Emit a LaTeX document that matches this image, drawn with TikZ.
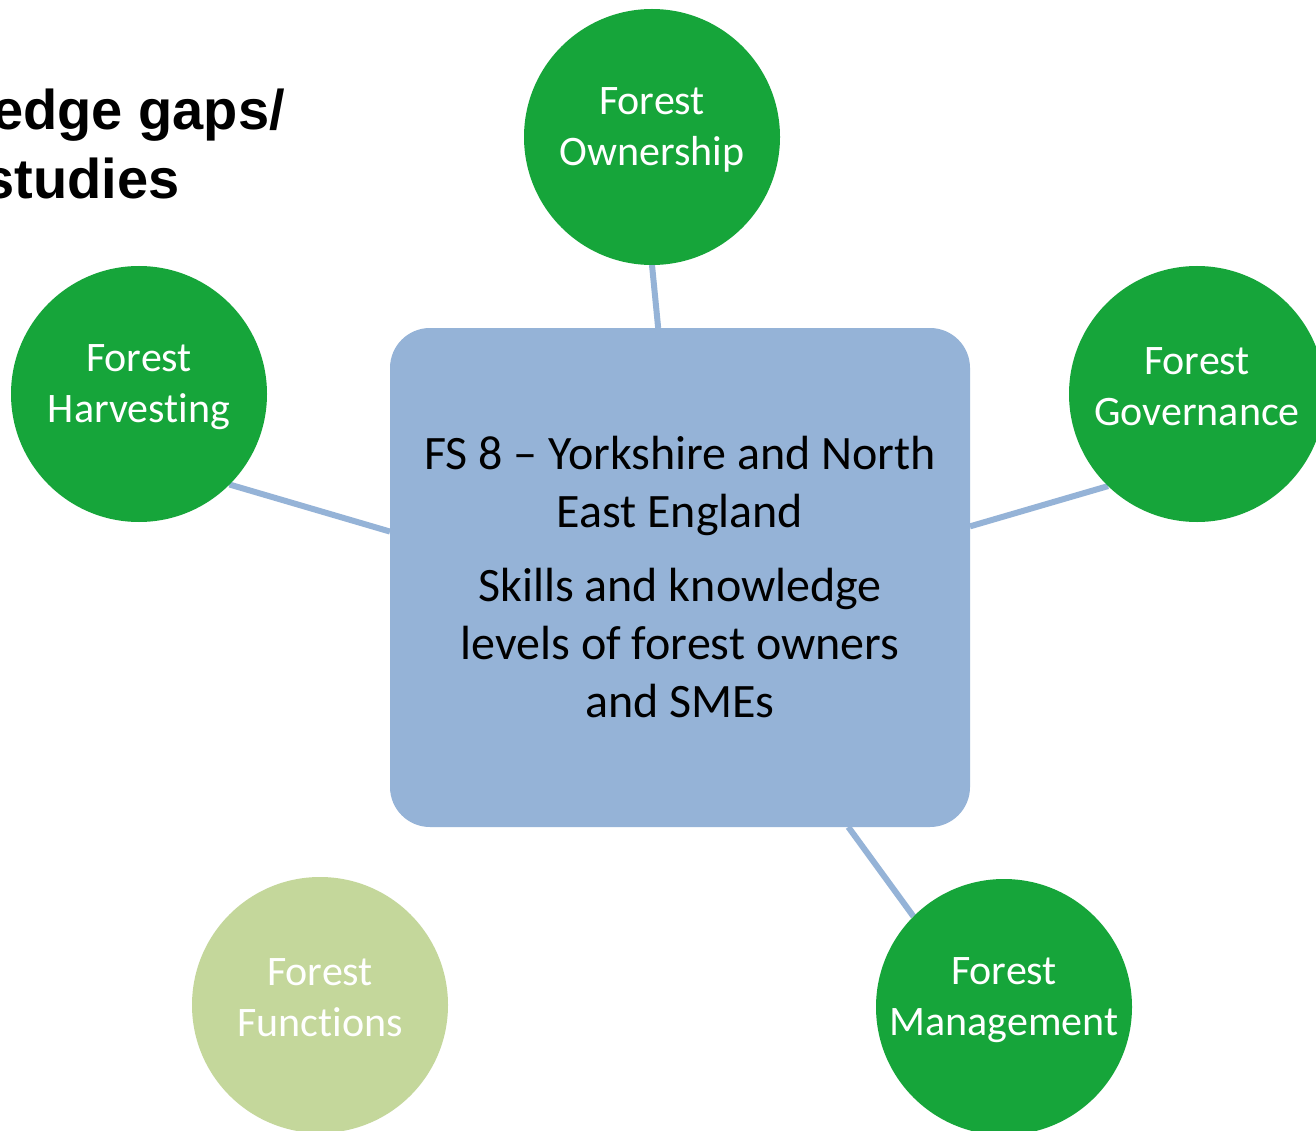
\documentclass[tikz,border=0pt]{standalone}
\usepackage{fontspec}
\setmainfont{Carlito}[Ligatures={CommonOff}]
\newfontfamily\titlefont{Liberation Sans}
\usetikzlibrary{backgrounds}
\definecolor{darkgreen}{HTML}{16A53A}
\definecolor{lightgreen}{HTML}{C4D79B}
\definecolor{boxblue}{HTML}{95B3D7}
\tikzset{
  topic/.style={circle, fill=darkgreen, draw=none, minimum size=256pt, inner sep=0pt, outer sep=0pt},
  topiclight/.style={topic, fill=lightgreen},
  topictext/.style={text=white, align=center, inner sep=0pt, font=\fontsize{42}{51}\selectfont, yshift=7pt},
  centerbox/.style={rectangle, rounded corners=40pt, fill=boxblue, draw=none, minimum width=580pt,
    minimum height=499pt, inner sep=0pt, outer sep=0pt, align=center, text=black,
    font=\fontsize{48}{58}\selectfont},
  link/.style={draw=boxblue, line width=6pt},
  titletext/.style={font=\titlefont\bfseries\fontsize{56}{66}\selectfont, inner sep=0pt, text=black}
}
\begin{document}
\begin{tikzpicture}[x=1pt,y=-1pt]
\useasboundingbox (0,0) rectangle (1316,1131);
\clip (0,0) rectangle (1316,1131);
\node[titletext, anchor=base east] (t1) at (285,130) {edge gaps/};
\node[titletext, anchor=base east] (t2) at (180,199) {studies};
\node[centerbox] (box) at (680,577.5) {FS 8 – Yorkshire and North\\ East England\\[16pt] Skills and knowledge\\ levels of forest owners\\ and SMEs};
\node[topic, label={[topictext]center:{Forest\\ Ownership}}] (own) at (652,137) {};
\node[topic, label={[topictext]center:{Forest\\ Harvesting}}] (harv) at (139,394) {};
\node[topic, label={[topictext]center:{Forest\\ Governance}}] (gov) at (1197,394) {};
\node[topic, label={[topictext]center:{Forest\\ Management}}] (man) at (1004,1007) {};
\node[topiclight, label={[topictext]center:{Forest\\ Functions}}] (fun) at (320,1005) {};
\begin{pgfonlayer}{background}
\fill[white] (0,0) rectangle (1316,1131);
\draw[link] (own.270) -- (box.95.7);
\draw[link] (harv.-45) -- (box.171.3);
\draw[link] (gov.226) -- (box.10.3);
\draw[link] (box.304) -- (man.135);
\end{pgfonlayer}
\end{tikzpicture}
\end{document}
